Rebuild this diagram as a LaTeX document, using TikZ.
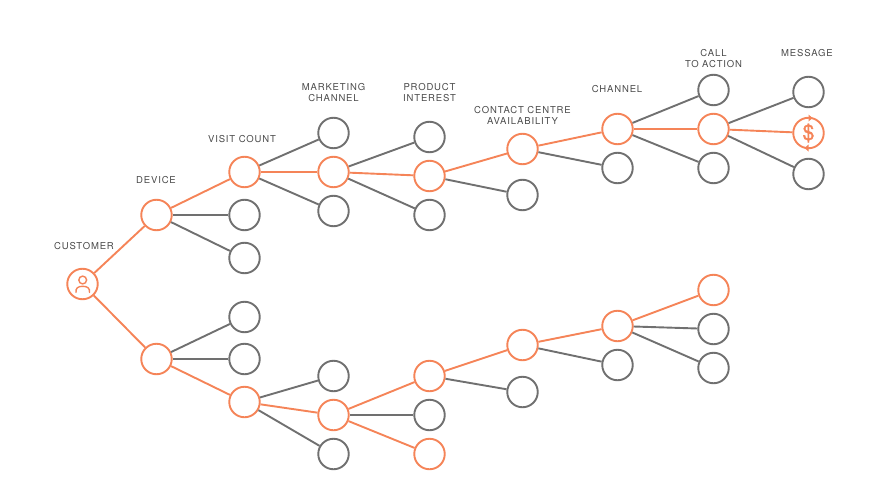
\documentclass[tikz,border=0pt]{standalone}
\usepackage{fontspec}
\setmainfont[LetterSpace=9]{TeX Gyre Heros}
\newfontfamily\dollarfont[FakeBold=1.5]{TeX Gyre Heros}
\definecolor{org}{HTML}{F58458}
\definecolor{gry}{HTML}{707070}
\definecolor{txt}{HTML}{4A4A4A}
\tikzset{
  on/.style={circle,draw=org,line width=1.9pt,minimum size=30.5pt,inner sep=0pt,fill=white},
  off/.style={circle,draw=gry,line width=1.9pt,minimum size=30.5pt,inner sep=0pt,fill=white},
  ge/.style={draw=gry,line width=1.9pt},
  oe/.style={draw=org,line width=1.9pt},
  lab/.style={font=\fontsize{9.5}{11}\selectfont,text=txt,align=center,inner sep=0pt,anchor=center},
}
\begin{document}
\begin{tikzpicture}[x=1pt,y=-1pt]
\useasboundingbox (0,0) rectangle (890,500);
% nodes
\foreach \n/\s/\x/\y in {
 c/on/82.5/284, d1/on/156.5/215, d2/on/156.5/359,
 va/on/244.5/172, vb/off/244.5/215, vc/off/244.5/258,
 vd/off/244.5/317, ve/off/244.5/359, vf/on/244.5/402,
 ma/off/333.5/133, mb/on/333.5/172, mc/off/333.5/211,
 md/off/333.5/376, me/on/333.5/415, mf/off/333.5/454,
 pa/off/429.5/137, pb/on/429.5/176, pc/off/429.5/215,
 pd/on/429.5/376, pe/off/429.5/415, pf/on/429.5/454,
 ka/on/522.5/149, kb/off/522.5/195, kc/on/522.5/345, kd/off/522.5/392,
 ha/on/617.5/129, hb/off/617.5/168, hc/on/617.5/326, hd/off/617.5/365,
 ta/off/713.5/90, tb/on/713.5/129, tc/off/713.5/168,
 td/on/713.5/290, te/off/713.5/329, tf/off/713.5/368,
 sa/off/808.5/92, sb/on/808.5/133, sc/off/808.5/174}
 {\node[\s] (\n) at (\x,\y) {};}
% connectors
\foreach \a/\b in {d1/vb,d1/vc,d2/vd,d2/ve,va/ma,va/mc,vf/md,vf/mf,mb/pa,mb/pc,me/pe,
 pb/kb,pd/kd,ka/hb,kc/hd,ha/ta,ha/tc,hc/te,hc/tf,tb/sa,tb/sc}
 \draw[ge] (\a) -- (\b);
\foreach \a/\b in {c/d1,c/d2,d1/va,d2/vf,va/mb,vf/me,mb/pb,me/pd,me/pf,pb/ka,pd/kc,ka/ha,kc/hc,ha/tb,hc/td,tb/sb}
 \draw[oe] (\a) -- (\b);
% customer icon
\draw[org,line width=1.4pt] (82.7,280) circle (3.9pt);
\draw[org,line width=1.4pt,line cap=round] (76,292.5) .. controls (75.5,288) and (78,286.3) .. (82.7,286.3) .. controls (87.4,286.3) and (90,288) .. (89.5,292.5);
% message icon
\node[font=\fontsize{21}{21}\dollarfont,text=org,inner sep=0pt] (dollar) at (sb) {\$};
\fill[org] (808.5,114.5) -- (812.5,118) -- (808.5,121.5) -- cycle;
\fill[org] (808.5,144.5) -- (804.5,148) -- (808.5,151.5) -- cycle;
% labels
\node[lab] (l1) at (84,246.5) {CUSTOMER};
\node[lab] (l2) at (156,180.5) {DEVICE};
\node[lab] (l3) at (242,139.5) {VISIT COUNT};
\node[lab] (l4) at (333.5,92.5) {MARKETING\\CHANNEL};
\node[lab] (l5) at (429.5,92.5) {PRODUCT\\INTEREST};
\node[lab] (l6) at (522.5,115.5) {CONTACT CENTRE\\AVAILABILITY};
\node[lab] (l7) at (617,89.5) {CHANNEL};
\node[lab] (l8) at (713.5,58.5) {CALL\\TO ACTION};
\node[lab] (l9) at (807,53.5) {MESSAGE};
\end{tikzpicture}
\end{document}
